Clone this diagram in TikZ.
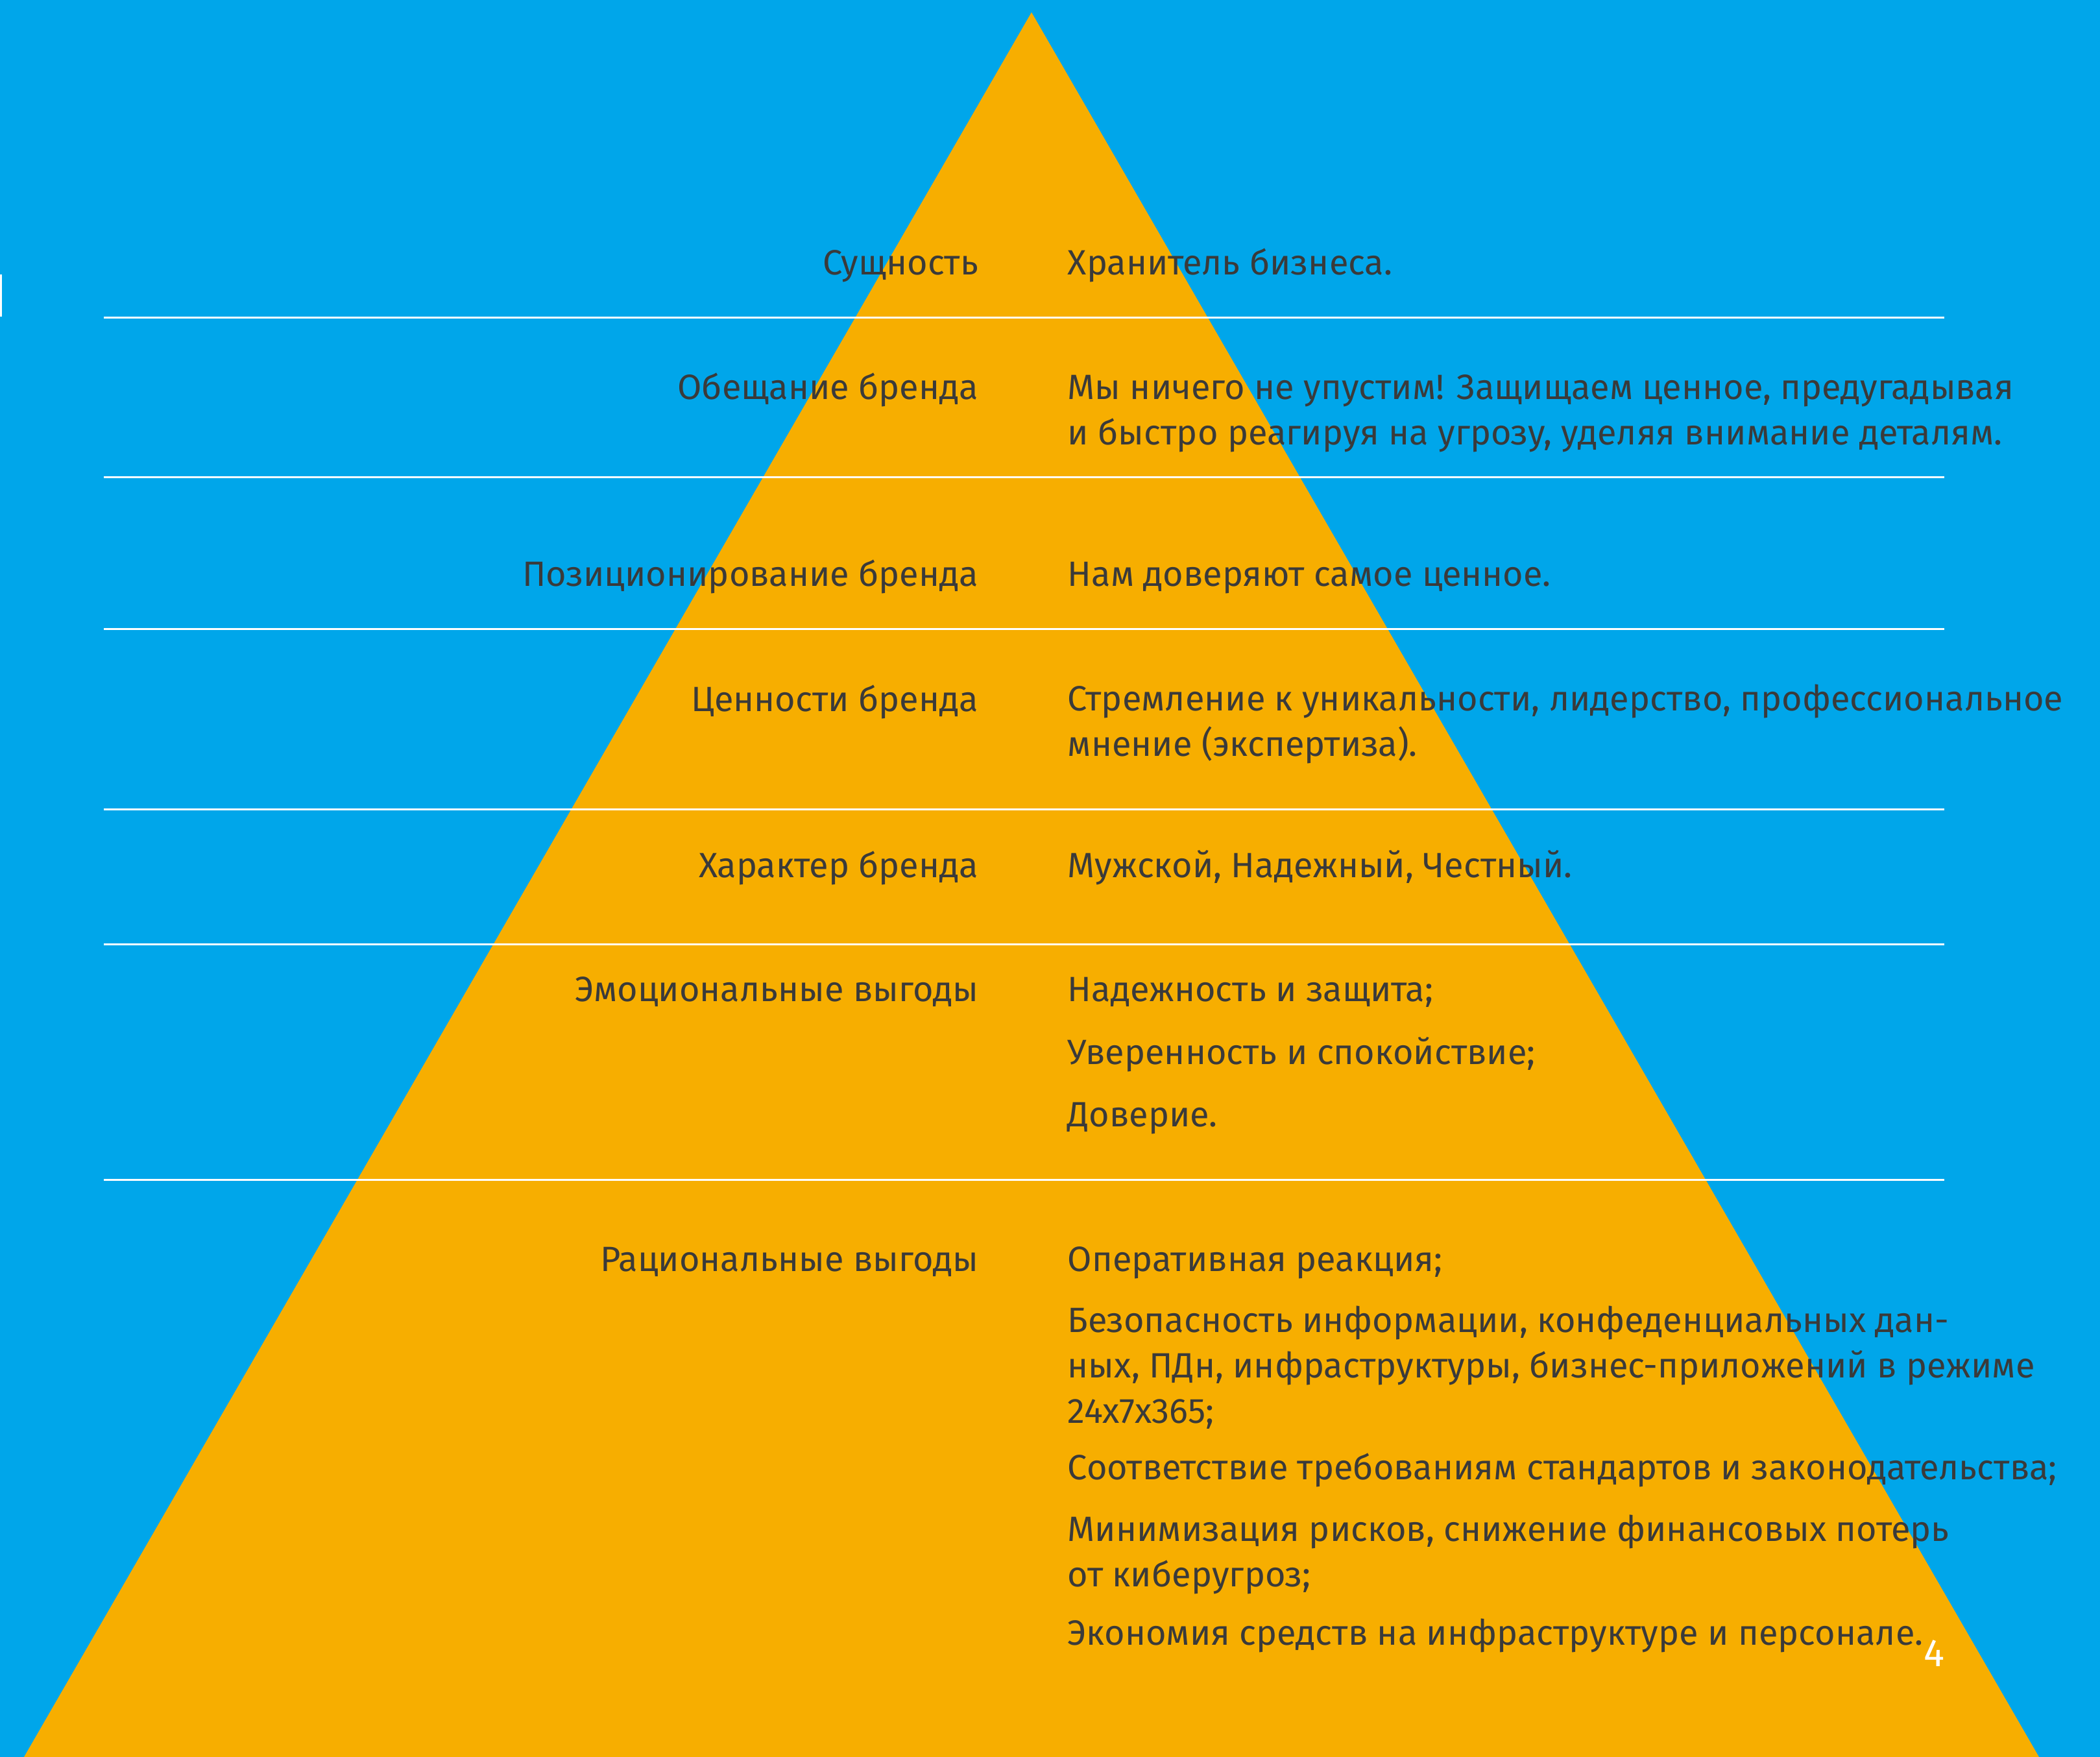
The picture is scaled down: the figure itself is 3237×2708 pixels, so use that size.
\documentclass[tikz,border=0pt]{standalone}
\usepackage{fontspec}
\setmainfont{Fira Sans}
\definecolor{skyblue}{HTML}{00A6EA}
\definecolor{pyramid}{HTML}{F7AE00}
\definecolor{ink}{HTML}{3A3A3A}
\tikzset{
    lvl/.style={anchor=base east,inner sep=0pt,text=ink,font=\fontsize{13.53}{17.4}\selectfont},
    val/.style={anchor=base west,inner sep=0pt,align=left,text=ink,font=\fontsize{13.53}{17.4}\selectfont},
    rule/.style={color=white,line width=0.75pt}
    }
\begin{document}
\begin{tikzpicture}[line cap=butt,line join=miter,x=0.25pt,y=-0.25pt]
\fill[skyblue] (0,0) rectangle (3237,2708);
\useasboundingbox (0,0) rectangle (3237,2708);
\fill[pyramid] (1590,19) -- (3143,2708) -- (37,2708) -- cycle;
\fill[white] (0,423) rectangle (3,488);
\foreach \y in {489,735,969,1247,1455,1818}
\draw[rule] (160,\y) -- (2997,\y);
% left column
\node[lvl] (essence) at (1509,424) {Сущность};
\node[lvl] (promise) at (1509,615) {Обещание бренда};
\node[lvl] (position) at (1509,903) {Позиционирование бренда};
\node[lvl] (values) at (1509,1096) {Ценности бренда};
\node[lvl] (character) at (1509,1352) {Характер бренда};
\node[lvl] (emotional) at (1509,1543) {Эмоциональные выгоды};
\node[lvl] (rational) at (1509,1959) {Рациональные выгоды};
% right column (multi-line nodes sit on their last baseline)
\node[val] (essencev) at (1645,424) {Хранитель бизнеса.};
\node[val] (promisev) at (1645,685) {Мы ничего не упустим! Защищаем ценное, предугадывая\\и быстро реагируя на угрозу, уделяя внимание деталям.};
\node[val] (positionv) at (1645,903) {Нам доверяют самое ценное.};
\node[val] (valuesv) at (1645,1165) {Стремление к уникальности, лидерство, профессиональное\\мнение (экспертиза).};
\node[val] (characterv) at (1645,1352) {Мужской, Надежный, Честный.};
\node[val] (emo1) at (1645,1543) {Надежность и защита;};
\node[val] (emo2) at (1645,1640) {Уверенность и спокойствие;};
\node[val] (emo3) at (1645,1736) {Доверие.};
\node[val] (rat1) at (1645,1959) {Оперативная реакция;};
\node[val] (rat2) at (1645,2193) {Безопасность информации, конфеденциальных дан-\\ных, ПДн, инфраструктуры, бизнес-приложений в режиме\\24x7x365;};
\node[val] (rat3) at (1645,2280) {Соответствие требованиям стандартов и законодательства;};
\node[val] (rat4) at (1645,2445) {Минимизация рисков, снижение финансовых потерь\\от киберугроз;};
\node[val] (rat5) at (1645,2535) {Экономия средств на инфраструктуре и персонале.};
\node[anchor=base,inner sep=0pt,text=white,font=\fontsize{15}{15}\selectfont] (page) at (2981,2568) {4};
\end{tikzpicture}
\end{document}
